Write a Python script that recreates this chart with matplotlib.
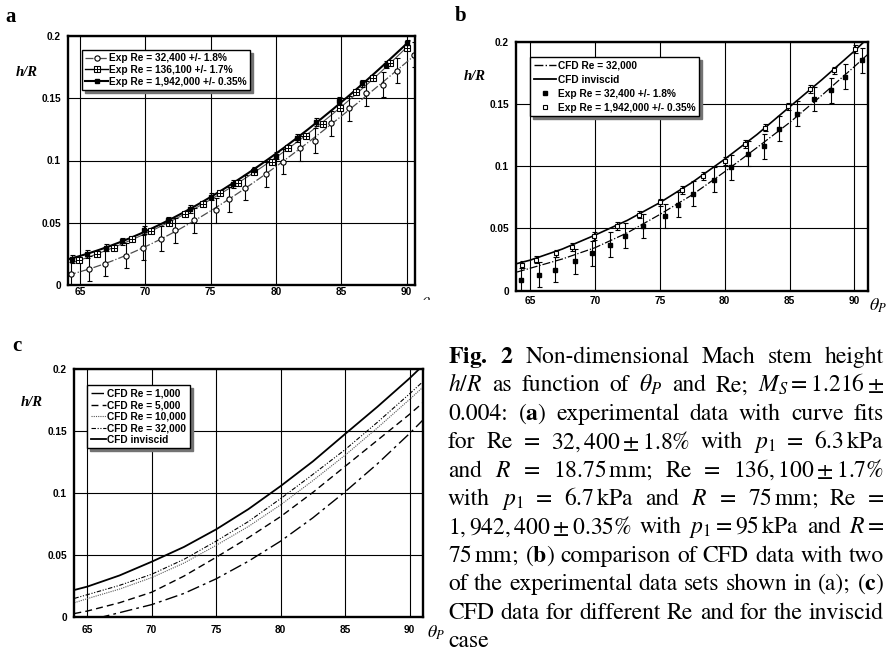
import numpy as np
import matplotlib
matplotlib.use("Agg")
import matplotlib.pyplot as plt
from matplotlib.lines import Line2D
from matplotlib.patches import Rectangle

W, H = 887, 653

# --- experimental data (theta_P in deg, h/R) ---
theta_32k = [64.3, 65.7, 66.9, 68.5, 69.8, 71.2, 72.3, 73.7, 75.4, 76.4, 77.6,
             79.2, 80.5, 81.8, 83.0, 84.2, 85.6, 86.9, 88.2, 89.3, 90.6]
hr_32k = [0.0085, 0.013, 0.017, 0.0235, 0.030, 0.037, 0.044, 0.052, 0.060, 0.069, 0.078,
          0.089, 0.099, 0.110, 0.116, 0.130, 0.142, 0.154, 0.161, 0.172, 0.185]
err_32k = 0.01

theta_136k = [64.9, 66.3, 67.6, 69.0, 70.4, 71.8, 73.0, 74.4, 75.7, 77.1,
              78.3, 79.7, 80.9, 82.3, 83.6, 84.9, 86.1, 87.4, 88.7, 90.0]
hr_136k = [0.020, 0.0245, 0.030, 0.037, 0.043, 0.050, 0.057, 0.065, 0.074, 0.082,
           0.091, 0.099, 0.110, 0.120, 0.129, 0.142, 0.155, 0.166, 0.178, 0.190]

theta_1942k = [64.4, 65.5, 67.0, 68.2, 69.9, 71.7, 73.4, 75.0, 76.7, 78.35,
               80.0, 81.6, 83.1, 84.85, 86.6, 88.4, 90.05]
hr_1942k = [0.021, 0.025, 0.030, 0.035, 0.044, 0.052, 0.061, 0.071, 0.081, 0.092,
            0.104, 0.118, 0.131, 0.148, 0.162, 0.177, 0.194]
err_1942k = 0.003

# --- CFD curves ---
theta_cfd = [64, 65, 67.5, 70, 72.5, 75, 77.5, 80, 82.5, 85, 87.5, 90, 91]
cfd_1k = [-0.006, -0.003, 0.0035, 0.010, 0.019, 0.0308, 0.045, 0.0612, 0.080, 0.101, 0.1235, 0.148, 0.1585]
cfd_5k = [0.0028, 0.0048, 0.0115, 0.020, 0.033, 0.0482, 0.064, 0.081, 0.1005, 0.1215, 0.1425, 0.1635, 0.1725]
cfd_10k = [0.0115, 0.0148, 0.0225, 0.0318, 0.0435, 0.0578, 0.073, 0.0905, 0.110, 0.1305, 0.1525, 0.1755, 0.185]
cfd_32k = [0.015, 0.018, 0.0255, 0.0345, 0.0465, 0.0612, 0.077, 0.0955, 0.115, 0.135, 0.157, 0.180, 0.1895]
cfd_inv = [0.0218, 0.0245, 0.0335, 0.0446, 0.0565, 0.0707, 0.087, 0.1056, 0.1255, 0.1476, 0.1695, 0.1925, 0.2025]

x_ticks = [65, 70, 75, 80, 85, 90]
x_labels = ["65", "70", "75", "80", "85", "90"]
y_ticks = [0, 0.05, 0.1, 0.15, 0.2]
y_labels = ["0", "0.05", "0.1", "0.15", "0.2"]

caption = [
    [r"$\mathbf{Fig.}$", r"$\mathbf{2}$", "Non-dimensional", "Mach", "stem", "height"],
    [r"$h/R$", "as", "function", "of", r"$\theta_P$", "and", "Re;", r"$M_S = 1.216\pm$"],
    ["0.004:", r"($\mathbf{a}$)", "experimental", "data", "with", "curve", "fits"],
    ["for", "Re", "=", r"$32,400\pm1.8\%$", "with", r"$p_1$", "=", r"$6.3\,\mathrm{kPa}$"],
    ["and", r"$R$", "=", r"$18.75\,\mathrm{mm}$;", "Re", "=", r"$136,100\pm1.7\%$"],
    ["with", r"$p_1$", "=", r"$6.7\,\mathrm{kPa}$", "and", r"$R$", "=", r"$75\,\mathrm{mm}$;", "Re", "="],
    [r"$1,942,400\pm0.35\%$", "with", r"$p_1 = 95\,\mathrm{kPa}$", "and", r"$R =$"],
    [r"$75\,\mathrm{mm}$;", r"($\mathbf{b}$)", "comparison", "of", "CFD", "data", "with", "two"],
    ["of", "the", "experimental", "data", "sets", "shown", "in", "(a);", r"($\mathbf{c}$)"],
    ["CFD", "data", "for", "different", "Re", "and", "for", "the", "inviscid"],
    ["case"],
]

plt.rcParams["mathtext.fontset"] = "stix"
plt.rcParams["font.family"] = "Liberation Sans"

fig = plt.figure(figsize=(W / 100, H / 100), dpi=100)
fig.patch.set_facecolor("white")

TICK_FONT = dict(family="Liberation Sans", weight="bold", size=7.3)


def px_axes(left, top, right, bottom):
    return fig.add_axes([left / W, 1 - bottom / H, (right - left) / W, (bottom - top) / H])


def style(ax, xlim, xpad):
    ax.set_xlim(*xlim)
    ax.set_ylim(0, 0.2)
    ax.set_xticks(x_ticks)
    ax.set_xticklabels(x_labels, **TICK_FONT)
    ax.set_yticks(y_ticks)
    ax.set_yticklabels(y_labels, **TICK_FONT)
    ax.grid(True, color="k", lw=0.8)
    ax.set_axisbelow(True)
    ax.tick_params(axis="x", length=0, pad=xpad)
    ax.tick_params(axis="y", length=0, pad=5)
    for s in ax.spines.values():
        s.set_linewidth(1.7)


def make_legend(ax, handles, labels, anchor, spacing, hlen, htpad):
    leg = ax.legend(handles, labels, loc="upper left", bbox_to_anchor=anchor,
                    borderaxespad=0, prop=TICK_FONT, fancybox=False,
                    shadow={"color": "0.45", "alpha": 1}, edgecolor="k",
                    framealpha=1, handlelength=hlen, handletextpad=htpad,
                    labelspacing=spacing, borderpad=0.35)
    leg.get_frame().set_linewidth(1.0)
    return leg


def fit_curve(x, y, x0, x1):
    c = np.polyfit(x, y, 3)
    xs = np.linspace(x0, x1, 200)
    return xs, np.polyval(c, xs)


# ---------------- panel a ----------------
ax_a = px_axes(68, 36, 415, 285)
style(ax_a, (64.08, 90.64), 1.5)

xs, ys = fit_curve(theta_32k, hr_32k, 64.08, 90.64)
ax_a.plot(xs, ys, ls="-.", color="0.3", lw=0.9)
xs, ys = fit_curve(theta_136k, hr_136k, 64.6, 90.1)
ax_a.plot(xs, ys, ls="-", color="0.3", lw=0.8)
xs, ys = fit_curve(theta_1942k, hr_1942k, 64.08, 90.2)
ax_a.plot(xs, ys, ls="-", color="k", lw=1.5)

ax_a.errorbar(theta_32k, hr_32k, yerr=err_32k, fmt="none", ecolor="k",
              elinewidth=0.8, capsize=1.8, capthick=0.8)
ax_a.errorbar(theta_1942k, hr_1942k, yerr=err_1942k, fmt="none", ecolor="k",
              elinewidth=0.8, capsize=1.8, capthick=0.8)
ax_a.plot(theta_32k, hr_32k, "o", ms=3.8, mfc="white", mec="k", mew=0.8)
ax_a.plot(theta_136k, hr_136k, "s", ms=4.2, mfc="white", mec="k", mew=0.8)
ax_a.plot(theta_136k, hr_136k, "+", ms=4.2, color="k", mew=0.7)
ax_a.plot(theta_1942k, hr_1942k, "s", ms=3.0, mfc="k", mec="k")

h1 = Line2D([], [], ls="-.", color="0.3", lw=0.9, marker="o", ms=3.8, mfc="white", mec="k", mew=0.8)
h2 = (Line2D([], [], ls="-", color="k", lw=1.0, marker="s", ms=4.2, mfc="white", mec="k", mew=0.8),
      Line2D([], [], ls="none", marker="+", ms=4.2, color="k", mew=0.7))
h3 = Line2D([], [], ls="-", color="k", lw=1.5, marker="s", ms=3.0, mfc="k")
make_legend(ax_a, [h1, h2, h3],
            ["Exp Re = 32,400 +/- 1.8%", "Exp Re = 136,100 +/- 1.7%", "Exp Re = 1,942,000 +/- 0.35%"],
            (0.04, 0.944), 0.15, 2.2, 0.1)

# ---------------- panel b ----------------
ax_b = px_axes(516, 41.7, 868, 290.7)
style(ax_b, (63.92, 91.05), 4)

ax_b.plot(theta_cfd, cfd_32k, ls="-.", color="k", lw=0.9)
ax_b.plot(theta_cfd, cfd_inv, ls="-", color="k", lw=1.2)
ax_b.errorbar(theta_32k, hr_32k, yerr=err_32k, fmt="none", ecolor="k",
              elinewidth=0.8, capsize=1.8, capthick=0.8)
ax_b.errorbar(theta_1942k, hr_1942k, yerr=err_1942k, fmt="none", ecolor="k",
              elinewidth=0.8, capsize=1.8, capthick=0.8)
ax_b.plot(theta_32k, hr_32k, "s", ms=3.5, mfc="k", mec="k")
ax_b.plot(theta_1942k, hr_1942k, "s", ms=3.5, mfc="white", mec="k", mew=0.8)

hb = [Line2D([], [], ls="-.", color="k", lw=1.0),
      Line2D([], [], ls="-", color="k", lw=1.3),
      Line2D([], [], ls="none", marker="s", ms=3.5, mfc="k", mec="k"),
      Line2D([], [], ls="none", marker="s", ms=3.5, mfc="white", mec="k", mew=0.8)]
make_legend(ax_b, hb,
            ["CFD Re = 32,000", "CFD inviscid", "Exp Re = 32,400 +/- 1.8%", "Exp Re = 1,942,000 +/- 0.35%"],
            (0.04, 0.9386), 0.4, 2.2, 0.2)

# ---------------- panel c ----------------
ax_c = px_axes(74, 369, 423, 617)
style(ax_c, (63.97, 91.04), 5.5)

lc = []
lc += ax_c.plot(theta_cfd, cfd_1k, color="k", lw=1.0, ls=(0, (9, 3, 2, 3)))
lc += ax_c.plot(theta_cfd, cfd_5k, color="k", lw=1.0, ls=(0, (5, 3)))
lc += ax_c.plot(theta_cfd, cfd_10k, color="0.35", lw=0.8, ls=(0, (1, 1)))
lc += ax_c.plot(theta_cfd, cfd_32k, color="k", lw=0.8, ls=(0, (4, 1.5, 1, 1.5, 1, 1.5)))
lc += ax_c.plot(theta_cfd, cfd_inv, color="k", lw=1.3, ls="-")
make_legend(ax_c, lc,
            ["CFD Re = 1,000", "CFD Re = 5,000", "CFD Re = 10,000", "CFD Re = 32,000", "CFD inviscid"],
            ((87 - 74) / 349, 1 - (385 - 369) / 248), 0.15, 1.5, 0.15)

# ---------------- labels ----------------
def ftext(x, y, s, **kw):
    return fig.text(x / W, 1 - y / H, s, **kw)


panel_font = dict(family="Liberation Serif", weight="bold", size=15, ha="center", va="center")
ftext(11, 17, "a", **panel_font)
ftext(461, 16, "b", **panel_font)
ftext(17, 346, "c", **panel_font)

hr_font = dict(family="Liberation Serif", weight="bold", style="italic", size=10.5, ha="center", va="center")
ftext(27, 72, "h/R", **hr_font)
ftext(475, 77, "h/R", **hr_font)
ftext(32, 402, "h/R", **hr_font)

th_font = dict(size=13, ha="center", va="center")
ftext(429, 305, r"$\theta_P$", **th_font)
ftext(878, 306, r"$\theta_P$", **th_font)
ftext(436, 633, r"$\theta_P$", **th_font)
fig.patches.append(Rectangle((418 / W, 1 - 319 / H), 30 / W, 19 / H,
                             transform=fig.transFigure, color="white", zorder=10))

# ---------------- caption (justified) ----------------
renderer = fig.canvas.get_renderer()
CAP_FS = 17
x_left, x_right = 448, 884
for i, tokens in enumerate(caption):
    y = 363 + i * 28.4
    texts = [ftext(0, y, tok, family="STIXGeneral", weight="normal", size=CAP_FS,
                   ha="left", va="baseline") for tok in tokens]
    widths = [t.get_window_extent(renderer).width for t in texts]
    if len(tokens) > 1 and i < len(caption) - 1:
        gap = (x_right - x_left - sum(widths)) / (len(tokens) - 1)
    else:
        gap = 6
    x = x_left
    for t, w in zip(texts, widths):
        t.set_position((x / W, 1 - y / H))
        x += w + gap

fig.savefig("out.png", dpi=100, facecolor="white")
